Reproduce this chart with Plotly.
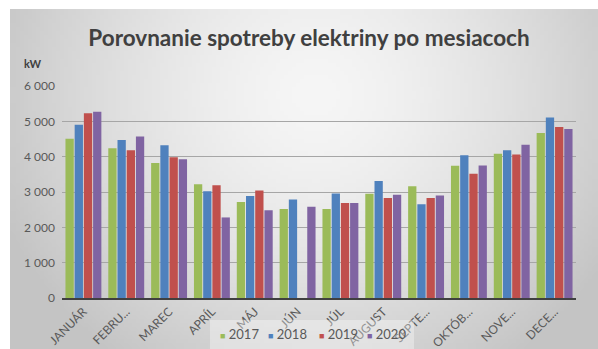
import base64
import struct
import zlib

import plotly.graph_objects as go

# Monthly electricity consumption (kW) per year
months = ["JANUÁR", "FEBRU...", "MAREC", "APRÍL", "MÁJ", "JÚN", "JÚL",
          "AUGUST", "SEPTE...", "OKTÓB...", "NOVE...", "DECE..."]
years = ["2017", "2018", "2019", "2020"]
y2017 = [4510, 4240, 3820, 3220, 2720, 2520, 2520, 2950, 3160, 3740, 4080, 4670]
y2018 = [4900, 4470, 4320, 3020, 2890, 2790, 2960, 3310, 2650, 4040, 4180, 5110]
y2019 = [5230, 4180, 3980, 3190, 3045, None, 2690, 2830, 2830, 3520, 4060, 4840]
y2020 = [5270, 4570, 3930, 2280, 2480, 2580, 2690, 2920, 2900, 3750, 4340, 4780]
series = [y2017, y2018, y2019, y2020]
colors = ["#9BBB59", "#4F81BD", "#C0504D", "#8064A2"]

W, H = 598, 349
ML, MR, MT, MB = 62, 22, 86, 51
PW, PH = W - ML - MR, H - MT - MB


def px_x(p):
    return (p - ML) / PW


def px_y(p):
    return 1 - (p - MT) / PH


def gradient_png(w, h):
    """Grey radial-ish gradient used as the chart background."""
    raw = bytearray()
    for j in range(h):
        raw.append(0)
        for i in range(w):
            dx = (i / (w - 1) - 0.52) / 0.6
            dy = (j / (h - 1) - 0.25) / 1.0
            d = min((dx * dx + dy * dy) ** 0.5, 1.2)
            v = int(max(196, 246 - 52 * d ** 1.5))
            raw += bytes((v, v, v))

    def chunk(tag, data):
        c = tag + data
        return struct.pack(">I", len(data)) + c + struct.pack(">I", zlib.crc32(c) & 0xFFFFFFFF)

    png = (b"\x89PNG\r\n\x1a\n"
           + chunk(b"IHDR", struct.pack(">IIBBBBB", w, h, 8, 2, 0, 0, 0))
           + chunk(b"IDAT", zlib.compress(bytes(raw), 9))
           + chunk(b"IEND", b""))
    return "data:image/png;base64," + base64.b64encode(png).decode()


fig = go.Figure()
for name, vals, col in zip(years, series, colors):
    fig.add_trace(go.Bar(x=months, y=vals, name=name, marker_color=col,
                         marker_line_width=0, showlegend=False))

# chart-area background (leaves a thin white strip on the left and top)
x0, y0 = 10, 9
fig.add_layout_image(
    source=gradient_png(147, 85), xref="paper", yref="paper",
    x=px_x(x0), y=px_y(y0), sizex=(W - x0) / PW, sizey=(H - y0) / PH,
    xanchor="left", yanchor="top", sizing="stretch", layer="below",
)

# legend: translucent box over the axis labels, with coloured squares
fig.add_shape(type="rect", xref="paper", yref="paper",
              x0=px_x(210), x1=px_x(414), y0=px_y(320), y1=px_y(349),
              fillcolor="rgba(255,255,255,0.35)", line_width=0, layer="above")
leg_x = [218, 266, 317, 365]
for lx, name, col in zip(leg_x, years, colors):
    fig.add_annotation(
        xref="paper", yref="paper", x=px_x(lx), y=px_y(334),
        xanchor="left", yanchor="middle", showarrow=False,
        text=f"<span style='color:{col};font-size:9px'>■</span> {name}",
        font=dict(family="Lato", size=13, color="#595959"),
    )

fig.add_annotation(
    xref="paper", yref="paper", x=px_x(22), y=px_y(63),
    xanchor="left", yanchor="middle", showarrow=False, text="<b>kW</b>",
    font=dict(family="Lato", size=11, color="#404040"),
)

fig.update_layout(
    width=W, height=H,
    margin=dict(l=ML, r=MR, t=MT, b=MB, autoexpand=False),
    paper_bgcolor="white", plot_bgcolor="rgba(0,0,0,0)",
    separators=", ",
    barmode="group", bargap=0.14, bargroupgap=0.1,
    title=dict(text="<b>Porovnanie spotreby elektriny po mesiacoch</b>",
               x=309 / W, xanchor="center", y=1 - 38 / H, yanchor="middle",
               font=dict(family="Lato", size=22.5, color="#404040")),
    font=dict(family="Lato", color="#595959"),
)
fig.update_yaxes(range=[0, 6000], dtick=1000, tickformat=",d", automargin=False,
                 showgrid=True, gridcolor="#A6A6A6", gridwidth=1,
                 zeroline=False, showline=False,
                 tickfont=dict(size=12, color="#595959"), ticklabelstandoff=6)
fig.update_xaxes(showline=True, linecolor="#404040", linewidth=2, automargin=False,
                 tickangle=-45, tickfont=dict(size=12, color="#595959"))

fig.write_html("out.html")
